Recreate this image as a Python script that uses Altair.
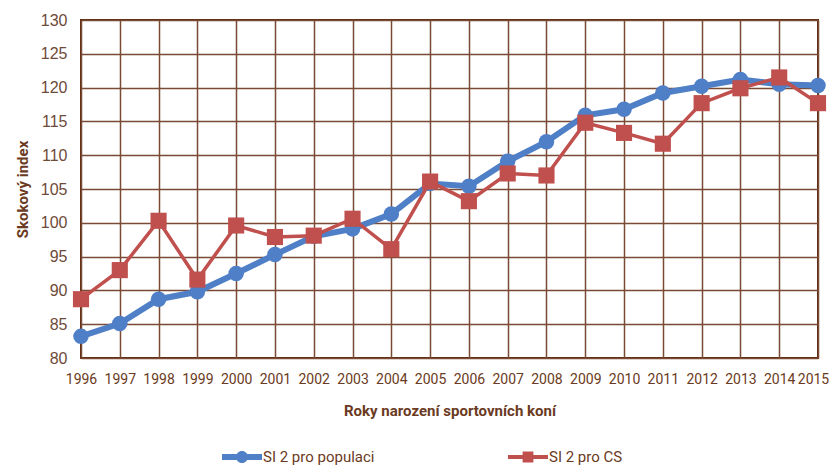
import altair as alt
import pandas as pd

years = list(range(1996, 2016))
si_populace = [83.2, 85.1, 88.7, 89.8, 92.5, 95.3, 98.0, 99.1, 101.3, 105.8,
               105.4, 109.1, 112.0, 115.9, 116.8, 119.2, 120.2, 121.2, 120.5, 120.3]
si_cs = [88.7, 93.0, 100.3, 91.6, 99.6, 97.9, 98.1, 100.6, 96.1, 106.1,
         103.2, 107.3, 107.0, 114.8, 113.3, 111.7, 117.7, 119.9, 121.5, 117.7]
series_names = ["SI 2 pro populaci", "SI 2 pro CS"]
colors = ["#4f7fc6", "#c0504d"]

df = pd.concat([
    pd.DataFrame({"rok": years, "hodnota": si_populace, "serie": series_names[0]}),
    pd.DataFrame({"rok": years, "hodnota": si_cs, "serie": series_names[1]}),
])

TXT = "#6b3a22"
GRID = "#7a4a35"

circle_line = ("M-1,-0.15 H-0.2 V0.15 H-1 Z M0.2,-0.15 H1 V0.15 H0.2 Z "
               "M0.3,0 A0.3,0.3 0 1,1 -0.3,0 A0.3,0.3 0 1,1 0.3,0 Z")
square_line = ("M-1,-0.1 H-0.2 V0.1 H-1 Z M0.2,-0.1 H1 V0.1 H0.2 Z "
               "M-0.27,-0.27 H0.27 V0.27 H-0.27 Z")

x_enc = alt.X("rok:O", scale=alt.Scale(type="point", padding=0),
              axis=alt.Axis(title="Roky narození sportovních koní", labelAngle=0,
                            grid=True, ticks=False, domain=False,
                            gridColor=GRID, gridWidth=1.5, gridOpacity=1,
                            labelFont="Roboto", labelFontSize=14, labelColor=TXT,
                            labelOffset=alt.condition("datum.value == 2015", alt.value(-5), alt.value(0)),
                            labelPadding=14, titleFont="Roboto", titleFontSize=15,
                            titleFontWeight="bold", titleColor=TXT, titlePadding=17))
y_enc = alt.Y("hodnota:Q", scale=alt.Scale(domain=[80, 130], nice=False, zero=False),
              axis=alt.Axis(title="Skokový index", values=list(range(80, 131, 5)),
                            grid=True, ticks=False, domain=False,
                            gridColor=GRID, gridWidth=1.5, gridOpacity=1,
                            labelFont="Liberation Sans", labelFontSize=16, labelColor="#6e4a38",
                            labelPadding=14, titleFont="Roboto", titleFontSize=15,
                            titleFontWeight="bold", titleColor=TXT, titlePadding=10))

legend = alt.Legend(title=None, orient="none", direction="horizontal",
                    legendX=141, legendY=417, symbolSize=1600,
                    symbolOpacity=1, symbolStrokeWidth=0,
                    labelFont="Roboto", labelFontSize=15, labelColor=TXT,
                    labelOffset=1, columnPadding=133)

base = alt.Chart(df)
blue = base.transform_filter(alt.datum.serie == series_names[0])
red = base.transform_filter(alt.datum.serie == series_names[1])

line_blue = blue.mark_line(strokeWidth=6, color=colors[0]).encode(x=x_enc, y=y_enc)
line_red = red.mark_line(strokeWidth=3.5, color=colors[1]).encode(x=x_enc, y=y_enc)
pts_blue = blue.mark_point(shape="circle", filled=True, size=240, opacity=1, color=colors[0]).encode(
    x=x_enc, y=y_enc)
pts_red = red.mark_point(shape="square", filled=True, size=260, opacity=1, color=colors[1]).encode(
    x=x_enc, y=y_enc)
legend_layer = base.transform_filter("false").mark_point(filled=True).encode(
    x=x_enc, y=y_enc,
    color=alt.Color("serie:N", scale=alt.Scale(domain=series_names, range=colors), legend=legend),
    shape=alt.Shape("serie:N", scale=alt.Scale(domain=series_names, range=[circle_line, square_line]),
                    legend=legend),
)

chart = alt.layer(line_blue, pts_blue, line_red, pts_red, legend_layer).properties(
    width=737, height=338,
    autosize=alt.AutoSizeParams(type="none"),
    padding={"left": 73, "top": 12, "right": 11, "bottom": 107},
    background="white",
).configure_view(
    stroke="#5e2a10", strokeWidth=2
)

chart.save("out.html", embed_options={"renderer": "svg", "actions": False})
